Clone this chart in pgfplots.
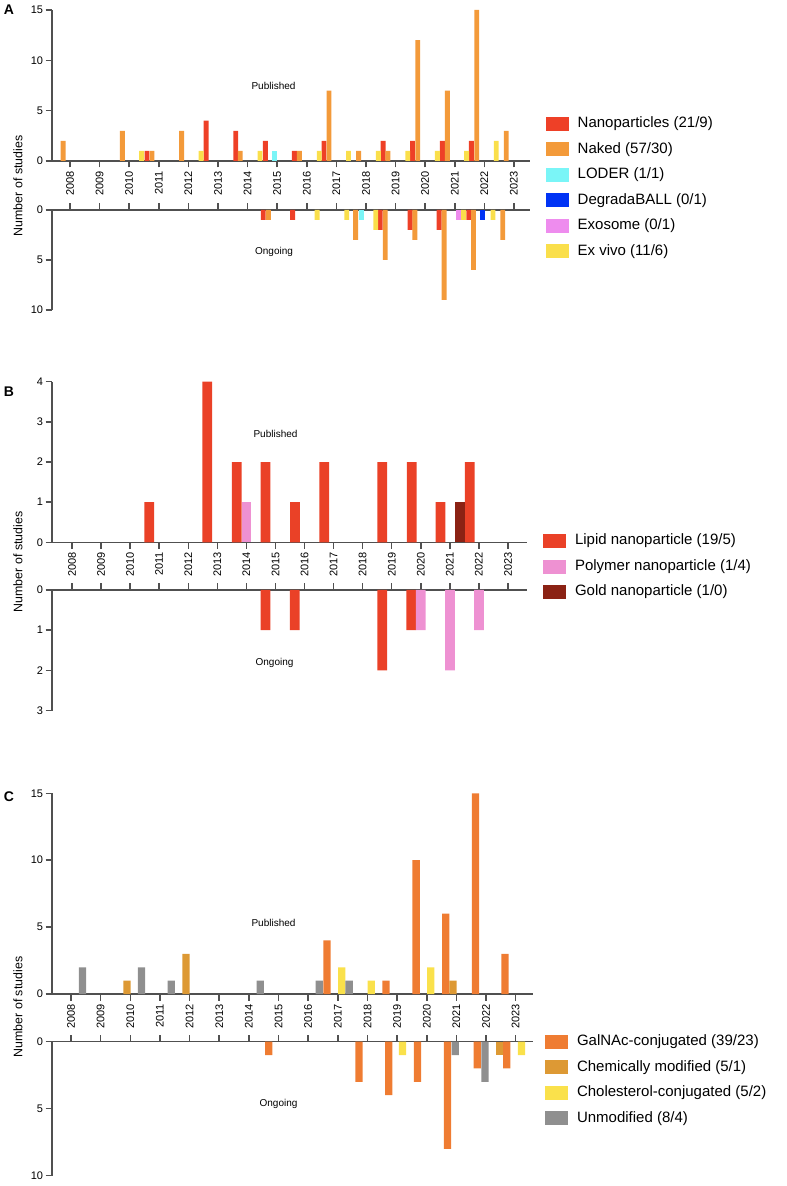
\documentclass[border=0pt]{standalone}
\usepackage{pgfplots}
\pgfplotsset{compat=1.18}
\usepackage{fontspec}
\setmainfont{Liberation Sans}
\definecolor{aNano}{RGB}{238,64,39}
\definecolor{aNaked}{RGB}{243,154,58}
\definecolor{aLoder}{RGB}{122,245,247}
\definecolor{aDeg}{RGB}{0,51,245}
\definecolor{aExo}{RGB}{238,140,238}
\definecolor{aEx}{RGB}{250,223,75}
\definecolor{bLipid}{RGB}{234,65,39}
\definecolor{bPoly}{RGB}{238,145,210}
\definecolor{bGold}{RGB}{139,34,20}
\definecolor{cGal}{RGB}{239,124,50}
\definecolor{cChem}{RGB}{221,153,52}
\definecolor{cChol}{RGB}{250,225,75}
\definecolor{cUn}{RGB}{143,143,143}
\definecolor{axgray}{RGB}{80,80,80}
\begin{document}
\begin{tikzpicture}
\useasboundingbox (0pt,0pt) rectangle (393pt,-593pt);
\pgfplotsset{
  panel/.style={
    scale only axis, anchor=south west, clip=false,
    ybar,
    every axis plot/.append style={bar shift=0pt, draw=none},
    xtick={2008,...,2023},
    tick align=outside,
    major tick length=3.25pt,
    axis line style={-, axgray, line width=0.75pt},
    x axis line style={-}, y axis line style={-},
    tick style={axgray, line width=0.75pt},
    /pgf/number format/assume math mode=true,
    /pgf/number format/1000 sep={},
    ticklabel style={font=\fontsize{5.5}{6}\selectfont, text=black},
    yticklabel style={inner sep=1pt},
    axis y line*=left,
  },
  pub/.style={panel, axis x line*=bottom, ymin=0,
    xticklabel style={rotate=90, anchor=east, inner sep=1.5pt},
    legend cell align=left,
    legend image code/.code={\fill[##1] (0pt,-3.5pt) rectangle (11.5pt,3.5pt);},
    legend style={draw=none, fill=none, anchor=north west, inner sep=0pt, outer sep=0pt,
      font=\fontsize{7.5}{9}\selectfont, row sep=5.75pt,
      nodes={inner sep=0pt, text height=5.4pt, text depth=1.6pt},
      /tikz/every odd column/.append style={column sep=4.5pt}},
  },
  ong/.style={panel, axis x line*=top, ymax=0, xticklabels={}},
}
% ---------------- Panel A ----------------
\begin{axis}[pub, at={(26pt,-80.5pt)}, width=239pt, height=75.5pt,
  xmin=2007.392, xmax=2023.541, ymax=15, ytick={0,5,10,15}, bar width=0.165,
  legend style={at={(axis description cs:1.0329,0.2914)}}]
\addplot[fill=aNano] coordinates {(2010.60,1) (2012.60,4) (2013.60,3) (2014.60,2) (2015.58,1) (2016.58,2) (2018.58,2) (2019.57,2) (2020.58,2) (2021.56,2)};
\addlegendentry{Nanoparticles (21/9)}
\addplot[fill=aNaked] coordinates {(2007.77,2) (2009.77,3) (2010.77,1) (2011.77,3) (2013.75,1) (2015.75,1) (2016.75,7) (2017.75,1) (2018.74,1) (2019.75,12) (2020.75,7) (2021.74,15) (2022.74,3)};
\addlegendentry{Naked (57/30)}
\addplot[fill=aLoder] coordinates {(2014.92,1)};
\addlegendentry{LODER (1/1)}
\addlegendimage{fill=aDeg, draw=none}
\addlegendentry{DegradaBALL (0/1)}
\addlegendimage{fill=aExo, draw=none}
\addlegendentry{Exosome (0/1)}
\addplot[fill=aEx] coordinates {(2010.42,1) (2012.43,1) (2014.42,1) (2016.42,1) (2017.41,1) (2018.42,1) (2019.41,1) (2020.41,1) (2021.40,1) (2022.40,2)};
\addlegendentry{Ex vivo (11/6)}
\end{axis}
\begin{axis}[ong, at={(26pt,-155pt)}, width=239pt, height=50pt,
  xmin=2007.392, xmax=2023.541, ymin=-10, ytick={-10,-5,0}, yticklabels={10,5,0}, bar width=0.165]
\addplot[fill=aNano] coordinates {(2014.53,-1) (2015.52,-1) (2018.48,-2) (2019.49,-2) (2020.47,-2) (2021.47,-1)};
\addplot[fill=aNaked] coordinates {(2014.70,-1) (2017.65,-3) (2018.65,-5) (2019.65,-3) (2020.64,-9) (2021.63,-6) (2022.62,-3)};
\addplot[fill=aLoder] coordinates {(2017.84,-1)};
\addplot[fill=aDeg] coordinates {(2021.95,-1)};
\addplot[fill=aExo] coordinates {(2021.13,-1)};
\addplot[fill=aEx] coordinates {(2016.35,-1) (2017.35,-1) (2018.33,-2) (2021.30,-1) (2022.29,-1)};
\end{axis}
\node[font=\bfseries\fontsize{7}{8}\selectfont] at (4.5pt,-5pt) {A};
\node[rotate=90, font=\fontsize{6.2}{7}\selectfont] at (9pt,-93pt) {Number of studies};
\node[font=\fontsize{5}{6}\selectfont] at (136.75pt,-43pt) {Published};
\node[font=\fontsize{5}{6}\selectfont] at (137pt,-126pt) {Ongoing};
% ---------------- Panel B ----------------
\begin{axis}[pub, at={(26pt,-271.15pt)}, width=237.5pt, height=80.3pt,
  xmin=2007.312, xmax=2023.652, ymax=4, ytick={0,1,2,3,4}, bar width=0.335,
  legend style={at={(axis description cs:1.0337,0.0517)}}]
\addplot[fill=bLipid] coordinates {(2010.66,1) (2012.65,4) (2013.67,2) (2014.66,2) (2015.67,1) (2016.68,2) (2018.67,2) (2019.69,2) (2020.68,1) (2021.68,2)};
\addlegendentry{Lipid nanoparticle (19/5)}
\addplot[fill=bPoly] coordinates {(2014.00,1)};
\addlegendentry{Polymer nanoparticle (1/4)}
\addplot[fill=bGold] coordinates {(2021.35,1)};
\addlegendentry{Gold nanoparticle (1/0)}
\end{axis}
\begin{axis}[ong, at={(26pt,-355.25pt)}, width=237.5pt, height=60.25pt,
  xmin=2007.312, xmax=2023.652, ymin=-3, ytick={-3,-2,-1,0}, yticklabels={3,2,1,0}, bar width=0.335]
\addplot[fill=bLipid] coordinates {(2014.66,-1) (2015.66,-1) (2018.67,-2) (2019.67,-1)};
\addplot[fill=bPoly] coordinates {(2020.00,-1) (2021.00,-2) (2022.00,-1)};
\end{axis}
\node[font=\bfseries\fontsize{7}{8}\selectfont] at (4.5pt,-196pt) {B};
\node[rotate=90, font=\fontsize{6.2}{7}\selectfont] at (9pt,-281pt) {Number of studies};
\node[font=\fontsize{5}{6}\selectfont] at (137.75pt,-217pt) {Published};
\node[font=\fontsize{5}{6}\selectfont] at (137.25pt,-331.35pt) {Ongoing};
% ---------------- Panel C ----------------
\begin{axis}[pub, at={(26pt,-497pt)}, width=240.5pt, height=100.35pt,
  xmin=2007.359, xmax=2023.582, ymax=15, ytick={0,5,10,15}, bar width=0.245,
  legend style={at={(axis description cs:1.025,-0.204)}}]
\addplot[fill=cGal] coordinates {(2016.63,4) (2018.62,1) (2019.64,10) (2020.64,6) (2021.64,15) (2022.64,3)};
\addlegendentry{GalNAc-conjugated (39/23)}
\addplot[fill=cChem] coordinates {(2009.89,1) (2011.88,3) (2020.88,1)};
\addlegendentry{Chemically modified (5/1)}
\addplot[fill=cChol] coordinates {(2017.13,2) (2018.13,1) (2020.13,2)};
\addlegendentry{Cholesterol-conjugated (5/2)}
\addplot[fill=cUn] coordinates {(2008.39,2) (2010.38,2) (2011.38,1) (2014.38,1) (2016.37,1) (2017.38,1)};
\addlegendentry{Unmodified (8/4)}
\end{axis}
\begin{axis}[ong, at={(26pt,-587.75pt)}, width=240.5pt, height=66.9pt,
  xmin=2007.359, xmax=2023.582, ymin=-10, ytick={-10,-5,0}, yticklabels={10,5,0}, bar width=0.245]
\addplot[fill=cGal] coordinates {(2014.67,-1) (2017.71,-3) (2018.72,-4) (2019.69,-3) (2020.70,-8) (2021.70,-2) (2022.70,-2)};
\addplot[fill=cChem] coordinates {(2022.44,-1)};
\addplot[fill=cChol] coordinates {(2019.18,-1) (2023.19,-1)};
\addplot[fill=cUn] coordinates {(2020.96,-1) (2021.96,-3)};
\end{axis}
\node[font=\bfseries\fontsize{7}{8}\selectfont] at (4.5pt,-398.5pt) {C};
\node[rotate=90, font=\fontsize{6.2}{7}\selectfont] at (9pt,-503.5pt) {Number of studies};
\node[font=\fontsize{5}{6}\selectfont] at (136.75pt,-461.35pt) {Published};
\node[font=\fontsize{5}{6}\selectfont] at (139.25pt,-552pt) {Ongoing};
\end{tikzpicture}
\end{document}
